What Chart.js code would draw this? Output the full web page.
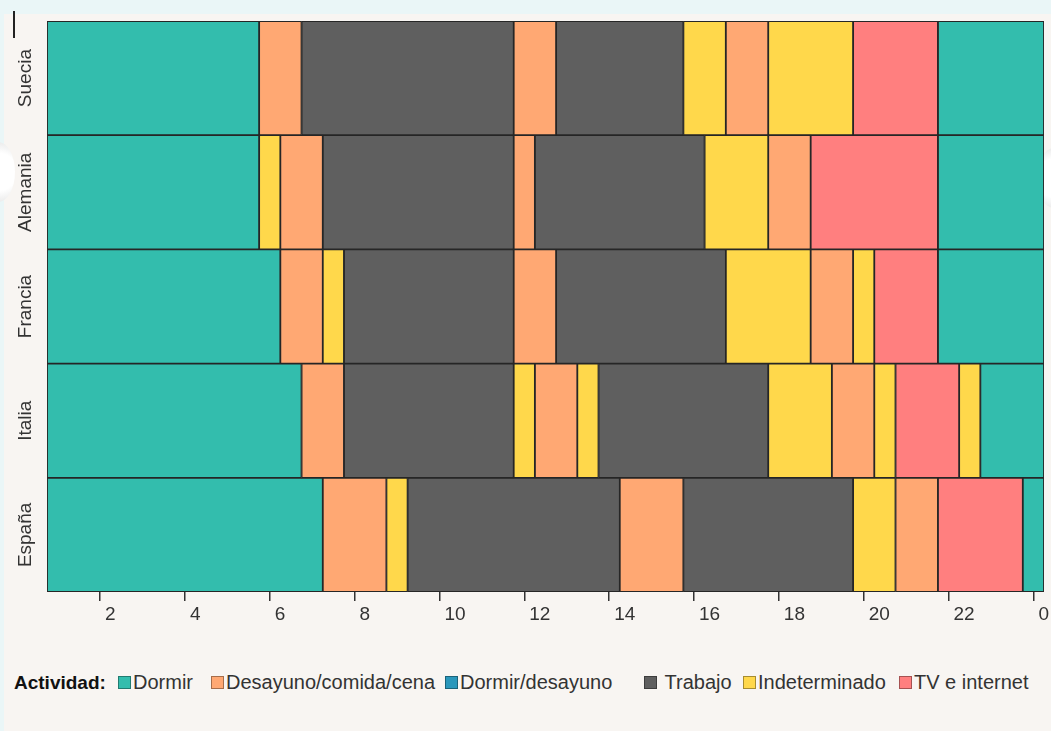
<!DOCTYPE html>
<html lang="es">
<head>
<meta charset="utf-8">
<title>Horarios por país</title>
<script src="https://cdn.jsdelivr.net/npm/chart.js@4.4.1/dist/chart.umd.min.js"></script>
<style>
  html, body { margin: 0; padding: 0; }
  body {
    width: 1051px; height: 731px; position: relative; overflow: hidden;
    background: #eaf6f7;
    font-family: 'Liberation Sans', Arial, sans-serif;
  }
  #panel { position: absolute; left: 4px; top: 14px; right: 0; bottom: 0; background: #f8f5f2; }
  #grafico { position: absolute; left: 0; top: 0; }
  #leyenda {
    position: absolute; left: 0; top: 671px; width: 1051px; height: 24px;
    white-space: nowrap; font-size: 20px; color: #333;
  }
  #leyenda b { position: absolute; left: 14px; top: 1px; font-size: 19px; font-weight: bold; color: #111; }
  #leyenda .item { position: absolute; top: 0; display: flex; align-items: center; height: 23px; }
  #leyenda .caja { width: 11px; height: 11px; border: 1px solid rgba(0,0,0,0.35); margin-right: 2px; }
  .marca { position: absolute; left: 13px; top: 11px; width: 2px; height: 27px; background: #222; }
  .boton { position: absolute; width: 34px; height: 60px; border-radius: 50%;
           background: radial-gradient(circle at 50% 50%, #ffffff 55%, #e4e4e4 100%); }
</style>
</head>
<body>
<div id="panel"></div>
<div class="marca"></div>
<div class="boton" style="left:-19px; top:142px;"></div>
<div class="boton" style="left:1037px; top:148px;"></div>
<canvas id="grafico" width="1051" height="640"></canvas>
<div id="leyenda"></div>

<script>
const paises = ['Suecia', 'Alemania', 'Francia', 'Italia', 'España'];
const actividades = ['Dormir', 'Desayuno/comida/cena', 'Dormir/desayuno', 'Trabajo', 'Indeterminado', 'TV e internet'];
const colores = ['#33bdad', '#ffa873', '#2a97bb', '#5f5f5f', '#ffd84b', '#ff7f7f'];

// Horas en que cambia la actividad, y actividad de cada tramo (índice en "actividades")
const cortesSuecia = [0.75, 5.75, 6.75, 11.75, 12.75, 15.75, 16.75, 17.75, 19.75, 21.75, 24.25];
const tramosSuecia = [0, 1, 3, 1, 3, 4, 1, 4, 5, 0];
const cortesAlemania = [0.75, 5.75, 6.25, 7.25, 11.75, 12.25, 16.25, 17.75, 18.75, 21.75, 24.25];
const tramosAlemania = [0, 4, 1, 3, 1, 3, 4, 1, 5, 0];
const cortesFrancia = [0.75, 6.25, 7.25, 7.75, 11.75, 12.75, 16.75, 18.75, 19.75, 20.25, 21.75, 24.25];
const tramosFrancia = [0, 1, 4, 3, 1, 3, 4, 1, 4, 5, 0];
const cortesItalia = [0.75, 6.75, 7.75, 11.75, 12.25, 13.25, 13.75, 17.75, 19.25, 20.25, 20.75, 22.25, 22.75, 24.25];
const tramosItalia = [0, 1, 3, 4, 1, 4, 3, 4, 1, 4, 5, 4, 0];
const cortesEspana = [0.75, 7.25, 8.75, 9.25, 14.25, 15.75, 19.75, 20.75, 21.75, 23.75, 24.25];
const tramosEspana = [0, 1, 4, 3, 1, 3, 4, 1, 5, 0];

// Eje horizontal
const horasEje = [2, 4, 6, 8, 10, 12, 14, 16, 18, 20, 22, 24];
const etiquetasEje = ['2', '4', '6', '8', '10', '12', '14', '16', '18', '20', '22', '0'];

const cortes = [cortesSuecia, cortesAlemania, cortesFrancia, cortesItalia, cortesEspana];
const tramos = [tramosSuecia, tramosAlemania, tramosFrancia, tramosItalia, tramosEspana];

// Un dataset por posición de tramo : chaque pays y met son k-ième segment
const nbTramos = Math.max(...tramos.map(t => t.length));
const datasets = [];
for (let k = 0; k < nbTramos; k++) {
  datasets.push({
    label: 'tramo ' + (k + 1),
    data: paises.map((p, i) => k < tramos[i].length ? [cortes[i][k], cortes[i][k + 1]] : null),
    backgroundColor: paises.map((p, i) => k < tramos[i].length ? colores[tramos[i][k]] : 'transparent'),
    borderColor: '#262626',
    borderWidth: 1.25,
    borderSkipped: false,
    grouped: false,
    barPercentage: 1,
    categoryPercentage: 1,
  });
}

const texto = '#333';
const fuente = { family: "'Liberation Sans', Arial, sans-serif", size: 19 };

const ctx = document.getElementById('grafico').getContext('2d');
new Chart(ctx, {
  type: 'bar',
  data: { labels: paises, datasets: datasets },
  options: {
    indexAxis: 'y',
    responsive: false,
    animation: false,
    layout: { padding: { left: 4, right: 7, top: 21, bottom: 8 } },
    plugins: { legend: { display: false }, tooltip: { enabled: false } },
    scales: {
      x: {
        type: 'linear',
        min: 0.75,
        max: 24.25,
        afterBuildTicks: (scale) => { scale.ticks = horasEje.map(v => ({ value: v })); },
        afterFit: (scale) => { scale.height = 40; },
        grid: { drawOnChartArea: false, drawTicks: true, tickLength: 9, color: '#333', lineWidth: 1.5 },
        border: { display: false },
        ticks: {
          autoSkip: false, maxRotation: 0, align: 'start', labelOffset: 5, padding: 2,
          color: texto, font: fuente,
          callback: (v, i) => etiquetasEje[i],
        },
      },
      y: {
        type: 'category',
        afterFit: (scale) => { scale.width = 43; },
        grid: { display: false },
        border: { display: false },
        ticks: { minRotation: 90, maxRotation: 90, crossAlign: 'center', padding: -26, color: texto, font: fuente },
      },
    },
  },
});

// Leyenda (posiciones de las cajas tomadas de la imagen)
const posLeyenda = [118, 211, 445, 644, 743, 899];
const leyenda = document.getElementById('leyenda');
let html = '<b>Actividad:</b>';
actividades.forEach((a, i) => {
  html += '<span class="item" style="left:' + posLeyenda[i] + 'px"><span class="caja" style="background:' +
    colores[i] + '"></span>' + (i === 3 ? '&nbsp;' : '') + a + '</span>';
});
leyenda.innerHTML = html;
</script>
</body>
</html>
